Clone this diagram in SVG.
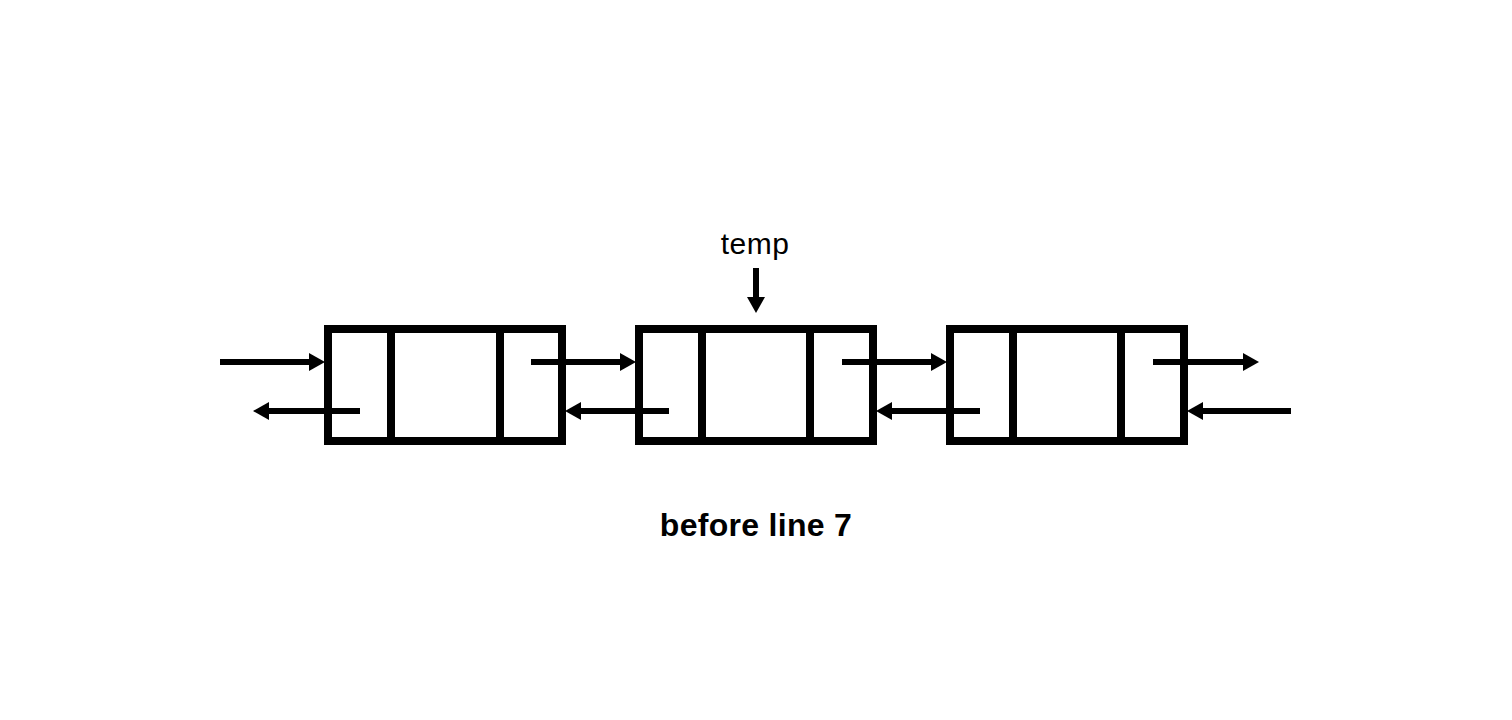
<svg xmlns="http://www.w3.org/2000/svg" width="1512" height="720" viewBox="0 0 1512 720">
<style>
.box{fill:#fff;stroke:#000;stroke-width:8}
.div{stroke:#000;stroke-width:8}
.arr{stroke:#000;stroke-width:6;fill:none;marker-end:url(#ah)}
.lbl{font-family:"Liberation Sans",Arial,sans-serif;fill:#000}
</style>
<defs>
<marker id="ah" viewBox="0 0 16 18" refX="0" refY="9" markerWidth="16" markerHeight="18" markerUnits="userSpaceOnUse" orient="auto">
<path d="M0,0 L16,9 L0,18 z" fill="#000"/>
</marker>
</defs>
<rect width="1512" height="720" fill="#fff"/>
<g id="node1">
<rect class="box" x="328" y="329" width="234" height="112"/>
<line class="div" x1="391" y1="329" x2="391" y2="441"/>
<line class="div" x1="500" y1="329" x2="500" y2="441"/>
</g>
<g id="node2">
<rect class="box" x="639" y="329" width="234" height="112"/>
<line class="div" x1="702" y1="329" x2="702" y2="441"/>
<line class="div" x1="810" y1="329" x2="810" y2="441"/>
</g>
<g id="node3">
<rect class="box" x="950" y="329" width="234" height="112"/>
<line class="div" x1="1013" y1="329" x2="1013" y2="441"/>
<line class="div" x1="1121" y1="329" x2="1121" y2="441"/>
</g>
<g id="connectors">
<line class="arr" x1="220" y1="362" x2="309" y2="362"/>
<line class="arr" x1="531" y1="362" x2="620" y2="362"/>
<line class="arr" x1="842" y1="362" x2="931" y2="362"/>
<line class="arr" x1="1153" y1="362" x2="1243" y2="362"/>
<line class="arr" x1="360" y1="411" x2="269" y2="411"/>
<line class="arr" x1="669" y1="411" x2="581" y2="411"/>
<line class="arr" x1="980" y1="411" x2="892" y2="411"/>
<line class="arr" x1="1291" y1="411" x2="1203" y2="411"/>
<line class="arr" x1="756" y1="268" x2="756" y2="297"/>
</g>
<g id="labels">
<text class="lbl" x="755" y="254" font-size="30" text-anchor="middle" letter-spacing="0.5">temp</text>
<text class="lbl" x="756" y="536" font-size="32" font-weight="bold" text-anchor="middle" letter-spacing="0.3">before line 7</text>
</g>
</svg>
